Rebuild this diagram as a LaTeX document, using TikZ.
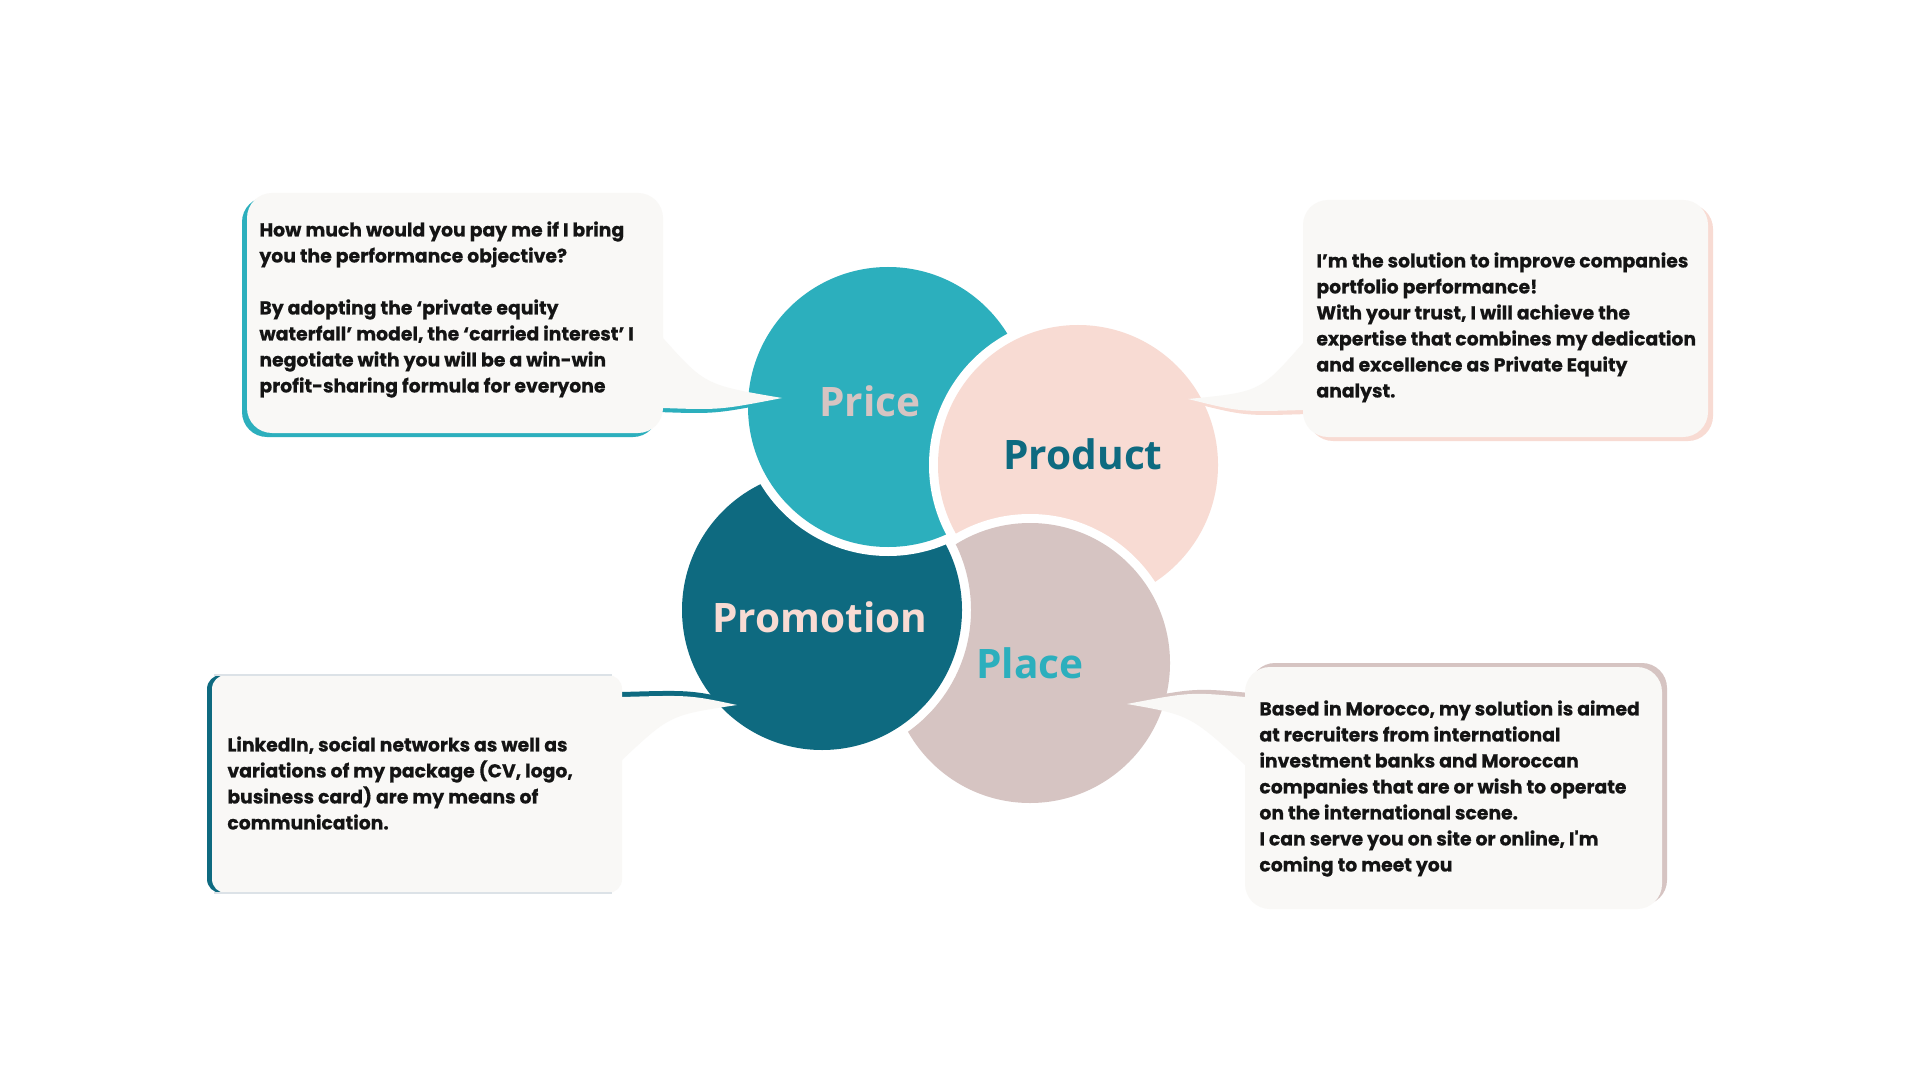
\documentclass[tikz,border=0pt]{standalone}
\usepackage{fontspec}
\newfontfamily\callfont{Poppins}[BoldFeatures={FakeBold=0.5}]
\newfontfamily\labfont{Open Sans}
\definecolor{cteal}{HTML}{2CAFBD}
\definecolor{cpink}{HTML}{F8DBD3}
\definecolor{cdark}{HTML}{0E6A80}
\definecolor{cmauve}{HTML}{D6C4C2}
\definecolor{cbox}{HTML}{F9F8F6}
\definecolor{ctext}{HTML}{141414}
\definecolor{cline}{HTML}{DCE2E7}
\begin{document}
\begin{tikzpicture}[x=0.5pt,y=-0.5pt,
  lab/.style={font=\labfont\bfseries\fontsize{20.3}{24}\selectfont, anchor=base, inner sep=0},
  calltext/.style={font=\callfont\bfseries\fontsize{9.4}{13}\selectfont, text=ctext, align=left, anchor=north west, inner sep=0},
  boxfill/.style={fill=cbox},
]
\useasboundingbox[fill=white] (0,0) rectangle (1920,1080);

\coordinate (price) at (888,407);
\coordinate (product) at (1078,465);
\coordinate (promotion) at (822,610);
\coordinate (place) at (1030,663);

% circles (cyclic overlap: Promotion < Price < Product < Place < Promotion)
\fill[white] (promotion) circle[radius=149];
\fill[cdark] (promotion) circle[radius=140];
\fill[white] (price) circle[radius=149];
\fill[cteal] (price) circle[radius=140];
\fill[white] (product) circle[radius=149];
\fill[cpink] (product) circle[radius=140];
\begin{scope}[even odd rule]
  \clip (-10,-10) rectangle (1930,1090) (promotion) circle[radius=149];
  \fill[white] (place) circle[radius=149];
  \fill[cmauve] (place) circle[radius=140];
\end{scope}

\node[lab, text=cmauve] (pricelab) at (870,416) {Price};
\node[lab, text=cdark] (productlab) at (1083,469) {Product};
\node[lab, text=cpink] (promolab) at (820,632) {Promotion};
\node[lab, text=cteal] (placelab) at (1030,678) {Place};

% ---- Callout 1 (Price)
\begin{scope}[shift={(-5,4)}]
  \fill[cteal, rounded corners=12.5pt] (247,193) rectangle (663,433);
  \fill[cteal] (640,338) -- (663,338) .. controls (705,385) .. (782,398) .. controls (720,410) .. (663,408) -- (640,408) -- cycle;
\end{scope}
\fill[boxfill, rounded corners=12.5pt] (247,193) rectangle (663,433);
\fill[boxfill] (640,338) -- (663,338) .. controls (705,385) .. (782,398) .. controls (720,410) .. (663,408) -- (640,408) -- cycle;
\node[calltext] (t1) at (259,221) {How much would you pay me if I bring\\you the performance objective?\\[13pt]By adopting the ‘private equity\\waterfall’ model, the ‘carried interest’ I\\negotiate with you will be a win-win\\profit-sharing formula for everyone};

% ---- Callout 2 (Product)
\begin{scope}[shift={(5,4)}]
  \fill[cpink, rounded corners=12.5pt] (1303,200) rectangle (1708,437);
  \fill[cpink] (1320,343) -- (1303,343) .. controls (1260,392) .. (1188,399) .. controls (1240,412) .. (1303,410) -- (1320,410) -- cycle;
\end{scope}
\fill[boxfill, rounded corners=12.5pt] (1303,200) rectangle (1708,437);
\fill[boxfill] (1320,343) -- (1303,343) .. controls (1260,392) .. (1188,399) .. controls (1240,412) .. (1303,410) -- (1320,410) -- cycle;
\node[calltext] (t2) at (1316,252) {I’m the solution to improve companies\\portfolio performance!\\With your trust, I will achieve the\\expertise that combines my dedication\\and excellence as Private Equity\\analyst.};

% ---- Callout 3 (Promotion)
\fill[cdark, rounded corners=7pt] (207,675) rectangle (617,893);
\begin{scope}[shift={(0,-5)}]
  \fill[cdark] (600,697) -- (622,697) .. controls (690,695) .. (737,705) .. controls (670,715) .. (622,760) -- (600,760) -- cycle;
\end{scope}
\fill[boxfill, rounded corners=7pt] (212,675) rectangle (622,893);
\fill[boxfill] (600,697) -- (622,697) .. controls (690,695) .. (737,705) .. controls (670,715) .. (622,760) -- (600,760) -- cycle;
\draw[cline, line width=0.6pt] (214,675) -- (612,675);
\draw[cline, line width=0.6pt] (214,893) -- (612,893);
\node[calltext] (t3) at (227,736) {LinkedIn, social networks as well as\\variations of my package (CV, logo,\\business card) are my means of\\communication.};

% ---- Callout 4 (Place)
\begin{scope}[shift={(5,-4)}]
  \fill[cmauve, rounded corners=12.5pt] (1245,667) rectangle (1662,909);
  \fill[cmauve] (1265,697) -- (1245,697) .. controls (1190,692) .. (1127,704) .. controls (1190,715) .. (1245,765) -- (1265,765) -- cycle;
\end{scope}
\fill[boxfill, rounded corners=12.5pt] (1245,667) rectangle (1662,909);
\fill[boxfill] (1265,697) -- (1245,697) .. controls (1190,692) .. (1127,704) .. controls (1190,715) .. (1245,765) -- (1265,765) -- cycle;
\node[calltext] (t4) at (1259,700) {Based in Morocco, my solution is aimed\\at recruiters from international\\investment banks and Moroccan\\companies that are or wish to operate\\on the international scene.\\I can serve you on site or online, I'm\\coming to meet you};

\end{tikzpicture}
\end{document}
